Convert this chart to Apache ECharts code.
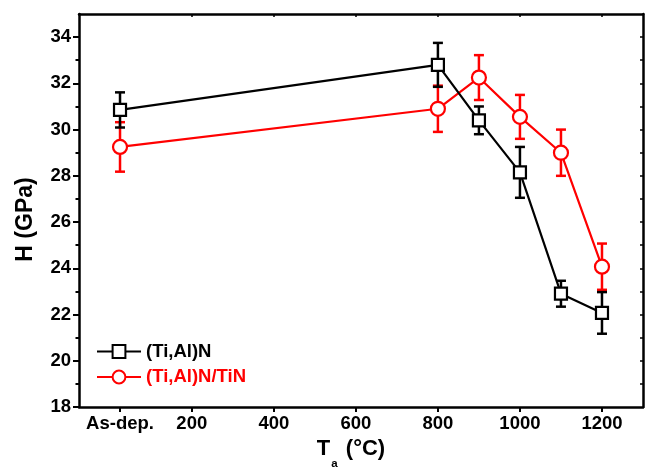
<!DOCTYPE html>
<html>
<head>
<meta charset="utf-8">
<script src="https://cdn.jsdelivr.net/npm/echarts@6/dist/echarts.min.js"></script>
<style>
  html, body { margin: 0; padding: 0; background: #fff; }
  #chart { width: 649px; height: 467px; }
</style>
</head>
<body>
<div id="chart"></div>
<script>
// Annealing temperature (°C); the as-deposited state sits at 25 on the axis
const temperatures = [25, 800, 900, 1000, 1100, 1200];
const xTickValues = [25, 200, 400, 600, 800, 1000, 1200];
const xTickLabels = ['As-dep.', '200', '400', '600', '800', '1000', '1200'];
const yTickValues = [18, 20, 22, 24, 26, 28, 30, 32, 34];

// Hardness (GPa) and its standard deviation
const tiAlN = [30.85, 32.8, 30.4, 28.15, 22.9, 22.07];
const tiAlNErr = [0.76, 0.95, 0.6, 1.1, 0.56, 0.9];
const tiAlNTiN = [29.25, 30.9, 32.25, 30.55, 29.0, 24.07];
const tiAlNTiNErr = [1.07, 1.0, 0.97, 0.95, 1.0, 1.0];

const seriesNames = ['(Ti,Al)N', '(Ti,Al)N/TiN'];
const colors = ['#000000', '#ff0000'];

const FONT = '"Liberation Sans", Arial, sans-serif';

function points(ys) { return temperatures.map((t, i) => [t, ys[i]]); }
function bars(ys, errs) { return temperatures.map((t, i) => [t, ys[i] - errs[i], ys[i] + errs[i]]); }

function errorBarRenderer(color) {
  return function (params, api) {
    const x = api.value(0);
    const lo = api.coord([x, api.value(1)]);
    const hi = api.coord([x, api.value(2)]);
    const w = 5;
    const style = { stroke: color, lineWidth: 2.5, fill: null };
    return {
      type: 'group',
      children: [
        { type: 'line', shape: { x1: lo[0], y1: lo[1], x2: hi[0], y2: hi[1] }, style },
        { type: 'line', shape: { x1: lo[0] - w, y1: lo[1], x2: lo[0] + w, y2: lo[1] }, style },
        { type: 'line', shape: { x1: hi[0] - w, y1: hi[1], x2: hi[0] + w, y2: hi[1] }, style }
      ]
    };
  };
}

const minorY = [];
for (let v = 19; v <= 33; v += 2) minorY.push(v);
const rightTicks = [];
for (let v = 19; v <= 34; v += 1) rightTicks.push(v);

const axisLineStyle = { color: '#000', width: 2.5 };
const labelStyle = { color: '#000', fontSize: 18.5, fontWeight: 'bold', fontFamily: FONT };

const chart = echarts.init(document.getElementById('chart'), null, { renderer: 'canvas' });

chart.setOption({
  animation: false,
  backgroundColor: '#fff',
  grid: { left: 79, right: 6, top: 14, bottom: 60, outerBoundsMode: 'none', containLabel: false },
  legend: {
    orient: 'vertical',
    left: 96,
    top: 342,
    padding: 0,
    itemWidth: 44,
    itemHeight: 16,
    itemGap: 6.5,
    data: [
      { name: seriesNames[0], textStyle: { color: colors[0] } },
      { name: seriesNames[1], textStyle: { color: colors[1] } }
    ],
    textStyle: { fontSize: 18.5, fontWeight: 'bold', fontFamily: FONT, lineHeight: 18, padding: [0, 0, 0, 0] }
  },
  xAxis: [
    {
      type: 'value', position: 'bottom', min: -75, max: 1300,
      axisLine: { onZero: false, lineStyle: axisLineStyle },
      axisTick: { customValues: xTickValues, length: 5, lineStyle: { width: 2, color: '#000' } },
      axisLabel: Object.assign({
        customValues: xTickValues, margin: 7,
        formatter: function (v) { const i = xTickValues.indexOf(v); return i >= 0 ? xTickLabels[i] : ''; }
      }, labelStyle),
      splitLine: { show: false },
      name: '{t|T}{s|a}{t| (°C)}',
      nameLocation: 'middle',
      nameGap: 29,
      nameTextStyle: {
        padding: [0, 20, 0, 0],
        rich: {
          t: { fontSize: 22, lineHeight: 22, verticalAlign: 'top', fontWeight: 'bold', fontFamily: FONT, color: '#000' },
          s: { fontSize: 11.5, lineHeight: 12, verticalAlign: 'top', fontWeight: 'bold', fontFamily: FONT, color: '#000', padding: [20, 2, 0, 1] }
        }
      }
    },
    {
      type: 'value', position: 'top', min: -75, max: 1300,
      axisLine: { onZero: false, lineStyle: axisLineStyle },
      axisTick: { customValues: [200, 400, 600, 800, 1000, 1200], inside: true, length: 3, lineStyle: { width: 1.5, color: '#000' } },
      axisLabel: { show: false },
      splitLine: { show: false }
    }
  ],
  yAxis: [
    {
      type: 'value', position: 'left', min: 18, max: 35,
      axisLine: { show: true, onZero: false, lineStyle: axisLineStyle },
      axisTick: { customValues: yTickValues, length: 6, lineStyle: { width: 2, color: '#000' } },
      axisLabel: Object.assign({ customValues: yTickValues, margin: 8 }, labelStyle),
      splitLine: { show: false },
      name: 'H (GPa)',
      nameLocation: 'middle',
      nameGap: 42,
      nameRotate: 90,
      nameTextStyle: { fontSize: 23, fontWeight: 'bold', fontFamily: FONT, color: '#000', padding: [0, 18, 0, 0] }
    },
    {
      type: 'value', position: 'left', min: 18, max: 35,
      axisLine: { show: false, onZero: false },
      axisTick: { customValues: minorY, length: 3.5, lineStyle: { width: 2, color: '#000' } },
      axisLabel: { show: false },
      splitLine: { show: false }
    },
    {
      type: 'value', position: 'right', min: 18, max: 35,
      axisLine: { show: true, onZero: false, lineStyle: axisLineStyle },
      axisTick: { customValues: rightTicks, inside: true, length: 3, lineStyle: { width: 1.5, color: '#000' } },
      axisLabel: { show: false },
      splitLine: { show: false }
    }
  ],
  series: [
    {
      name: seriesNames[1] + ' error', type: 'custom', z: 2,
      renderItem: errorBarRenderer(colors[1]),
      encode: { x: 0, y: [1, 2] },
      data: bars(tiAlNTiN, tiAlNTiNErr)
    },
    {
      name: seriesNames[1], type: 'line', z: 3,
      data: points(tiAlNTiN),
      symbol: 'circle', symbolSize: 14,
      itemStyle: { color: '#fff', borderColor: colors[1], borderWidth: 2.2 },
      lineStyle: { color: colors[1], width: 2.2 }
    },
    {
      name: seriesNames[0] + ' error', type: 'custom', z: 4,
      renderItem: errorBarRenderer(colors[0]),
      encode: { x: 0, y: [1, 2] },
      data: bars(tiAlN, tiAlNErr)
    },
    {
      name: seriesNames[0], type: 'line', z: 5,
      data: points(tiAlN),
      symbol: 'rect', symbolSize: 12,
      itemStyle: { color: '#fff', borderColor: colors[0], borderWidth: 2.2 },
      lineStyle: { color: colors[0], width: 2.2 }
    }
  ]
});
</script>
</body>
</html>
